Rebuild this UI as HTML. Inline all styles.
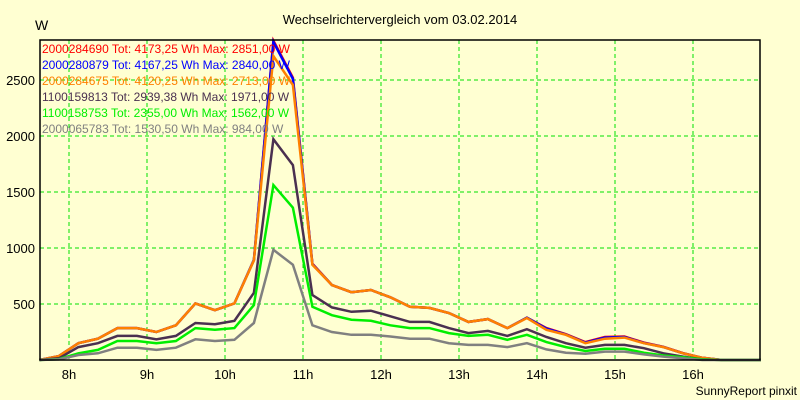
<!DOCTYPE html>
<html><head><meta charset="utf-8"><style>
body{margin:0;background:#ffffd2;}
svg{display:block;font-family:"Liberation Sans",sans-serif;}
</style></head><body>
<svg id="chart" width="800" height="400">
<rect x="0" y="0" width="800" height="400" fill="#ffffd2"/>
<text x="400" y="24" text-anchor="middle" font-size="13">Wechselrichtervergleich vom 03.02.2014</text>
<text x="35" y="30" font-size="14">W</text>
<text x="797" y="395" text-anchor="end" font-size="12">SunnyReport pinxit</text>
<g id="grid"></g><g id="series"></g><g id="axes"></g><g id="legend"></g>
</svg>
<script>
const startHour = 7.62;
const stepHour = 0.25;
const red =    [0,35,150,190,285,285,250,310,505,445,505,890,2851,2520,860,670,605,625,560,475,465,420,340,365,285,378,285,230,160,205,210,155,118,62,20,0,0,0];
const blue =   [0,35,150,190,285,285,250,310,505,445,505,895,2840,2510,855,670,605,625,560,475,465,420,340,365,285,378,280,228,155,200,205,152,116,60,20,0,0,0];
const orange = [0,35,150,190,285,285,250,310,505,445,505,890,2713,2455,850,670,605,625,560,475,465,420,340,365,285,375,270,225,150,190,200,150,115,60,20,0,0,0];
const dark =   [0,15,115,150,215,215,185,215,330,320,350,600,1971,1740,580,470,430,440,390,340,340,285,240,260,215,275,205,150,110,135,135,105,60,30,5,0,0,0];
const green =  [0,8,60,90,170,170,150,170,285,270,285,490,1562,1360,475,400,360,350,310,285,285,240,215,225,180,225,160,115,80,100,100,65,40,25,5,0,0,0];
const gray =   [0,5,45,60,110,110,90,110,185,170,180,330,984,850,310,250,225,225,210,190,190,150,135,135,115,150,95,65,55,75,75,50,30,15,0,0,0,0];
const yTicks = [500,1000,1500,2000,2500];
const xTicks = [8,9,10,11,12,13,14,15,16];
const legendLabels = ["2000284690 Tot: 4173,25 Wh Max: 2851,00 W","2000280879 Tot: 4167,25 Wh Max: 2840,00 W","2000284675 Tot: 4120,25 Wh Max: 2713,00 W","1100159813 Tot: 2939,38 Wh Max: 1971,00 W","1100158753 Tot: 2355,00 Wh Max: 1562,00 W","2000065783 Tot: 1530,50 Wh Max: 984,00 W"];

const L=40,R=760,T=40,B=360;
const xs = h => 69 + (h-8)*78;
const ys = v => B - v*56/500;
const NS="http://www.w3.org/2000/svg";
function mk(tag,attrs,parent){const e=document.createElementNS(NS,tag);for(const k in attrs)e.setAttribute(k,attrs[k]);parent.appendChild(e);return e;}
const grid=document.getElementById('grid'),ser=document.getElementById('series'),ax=document.getElementById('axes'),leg=document.getElementById('legend');
yTicks.forEach(v=>{
  const l=mk('line',{x1:L,x2:R,y1:ys(v),y2:ys(v),stroke:'#00e000','stroke-dasharray':'4,3','stroke-width':1},grid);
  
  
  const t=mk('text',{x:35,y:ys(v)+5,'text-anchor':'end','font-size':13},ax);
  t.textContent=v;
  
  
});
xTicks.forEach(h=>{
  const l=mk('line',{x1:xs(h),x2:xs(h),y1:T,y2:B,stroke:'#00e000','stroke-dasharray':'4,3','stroke-width':1},grid);
  
  
  const t=mk('text',{x:xs(h),y:379,'text-anchor':'middle','font-size':13},ax);
  t.textContent=h+'h';
  
  
});
const seriesList=[[red,'#ff0000'],[blue,'#0000ff'],[orange,'#ff8000'],[dark,'#4a3050'],[green,'#00ee00'],[gray,'#808080']];
const names=['series-red','series-blue','series-orange','series-dark','series-green','series-gray'];
seriesList.forEach((s,k)=>{
  const pts=s[0].map((v,i)=>xs(startHour+i*stepHour).toFixed(1)+','+ys(v).toFixed(1)).join(' ');
  const p=mk('polyline',{points:pts,fill:'none',stroke:s[1],'stroke-width':2.5,'stroke-linejoin':'miter'},ser);
  
  
});
const fr=mk('rect',{x:L,y:T,width:R-L,height:B-T,fill:'none',stroke:'#000','stroke-width':1.5},ax);


legendLabels.forEach((txt,k)=>{
  const t=mk('text',{x:42,y:53+k*16,'font-size':12,fill:seriesList[k][1]},leg);
  t.textContent=txt;
  
  
});
</script>
</body></html>
